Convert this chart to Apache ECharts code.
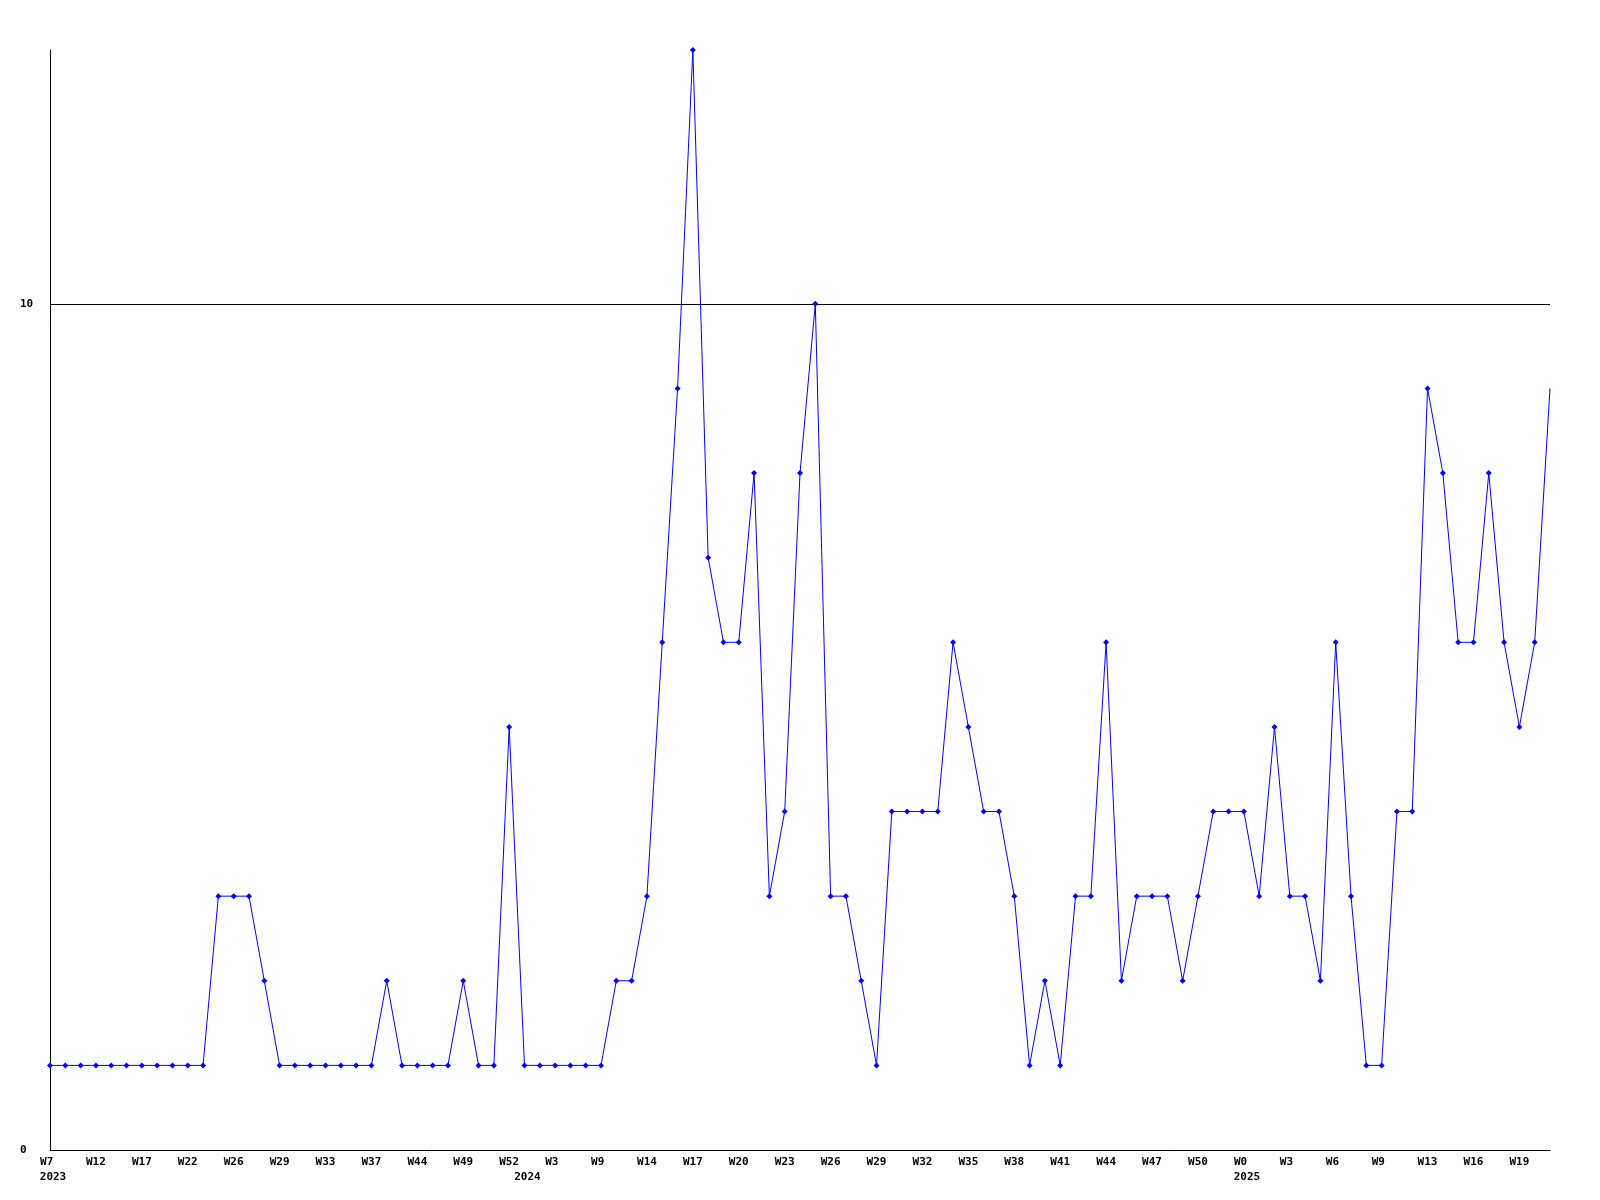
<!DOCTYPE html>
<html>
<head>
<meta charset="utf-8">
<script src="https://cdn.jsdelivr.net/npm/echarts@6/dist/echarts.min.js"></script>
<style>
html,body{margin:0;padding:0;background:#fff;}
#chart{width:1600px;height:1200px;}
</style>
</head>
<body>
<div id="chart"></div>
<script>
// Tick labels shown under every third point
const tickLabels = ['W7','W12','W17','W22','W26','W29','W33','W37','W44','W49','W52','W3','W9','W14','W17','W20','W23','W26','W29','W32','W35','W38','W41','W44','W47','W50','W0','W3','W6','W9','W13','W16','W19'];
// Year labels and the point index they sit under
const yearLabels = ['2023','2024','2025'];
const yearIndices = [0, 31, 78];
// Series values (one per week)
const values = [
  1,1,1,1,1,1,1,1,1,1,1,3,3,3,2,1,1,1,1,1,
  1,1,2,1,1,1,1,2,1,1,5,1,1,1,1,1,1,2,2,3,
  6,9,13,7,6,6,8,3,4,8,10,3,3,2,1,4,4,4,4,6,
  5,4,4,3,1,2,1,3,3,6,2,3,3,3,2,3,4,4,4,3,
  5,3,3,2,6,3,1,1,4,4,9,8,6,6,8,6,5,6,9
];
const categories = values.map((_, i) => String(i));
const lastIndex = values.length - 1;

const font = {fontFamily: 'DejaVu Sans Mono', fontWeight: 'bold', fontSize: 11, color: '#000'};

const chart = echarts.init(document.getElementById('chart'), null, {renderer: 'canvas'});
chart.setOption({
  animation: false,
  backgroundColor: '#fff',
  grid: {left: 50, right: 50, top: 50, bottom: 50, containLabel: false},
  xAxis: [
    {
      type: 'category',
      data: categories,
      boundaryGap: false,
      axisLine: {show: true, lineStyle: {color: '#000', width: 1}},
      axisTick: {show: false},
      splitLine: {show: false},
      axisLabel: Object.assign({}, font, {
        interval: 2,
        margin: 7,
        formatter: (v, i) => (i % 3 === 0 ? tickLabels[i / 3].padEnd(3, ' ') : '')
      })
    },
    {
      type: 'category',
      data: categories,
      boundaryGap: false,
      position: 'bottom',
      axisLine: {show: false},
      axisTick: {show: false},
      splitLine: {show: false},
      axisLabel: Object.assign({}, font, {
        interval: (i) => yearIndices.indexOf(i) >= 0,
        margin: 22,
        padding: [0, 0, 0, 6],
        formatter: (v, i) => {
          const k = yearIndices.indexOf(i);
          return k >= 0 ? yearLabels[k] : '';
        }
      })
    }
  ],
  yAxis: {
    type: 'value',
    min: 0,
    max: 13,
    interval: 10,
    axisLine: {show: true, lineStyle: {color: '#000', width: 1}},
    axisTick: {show: false},
    splitLine: {show: true, showMinLine: false, showMaxLine: false, lineStyle: {color: '#000', width: 1}},
    axisLabel: Object.assign({}, font, {
      align: 'left',
      margin: 30,
      showMaxLabel: false,
      formatter: (v) => (v % 10 === 0 ? String(v) : '')
    })
  },
  series: [{
    type: 'line',
    data: values,
    xAxisIndex: 0,
    yAxisIndex: 0,
    symbol: (v, p) => (p.dataIndex === lastIndex ? 'none' : 'diamond'),
    symbolSize: 6,
    showAllSymbol: true,
    lineStyle: {color: '#0000ff', width: 1},
    itemStyle: {color: '#0000ff', borderWidth: 0},
    emphasis: {disabled: true}
  }]
});
</script>
</body>
</html>
